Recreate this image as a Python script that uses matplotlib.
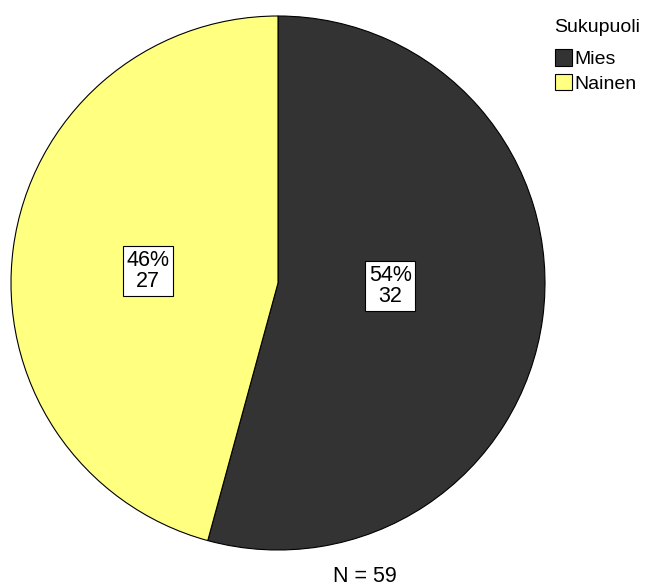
import numpy as np
import matplotlib
matplotlib.use("Agg")
import matplotlib.pyplot as plt
from matplotlib.patches import Patch

categories = ["Mies", "Nainen"]
counts = [32, 27]
colors = ["#333333", "#FFFF80"]
legend_title = "Sukupuoli"

plt.rcParams['font.family'] = ['Liberation Sans', 'DejaVu Sans']

# label box centres, in units of the pie radius
label_xy = [(0.42, -0.011), (-0.487, 0.045)]

W, H = 651, 588
fig = plt.figure(figsize=(W/100, H/100), dpi=100)
cx, cy, R = 278, 283, 267
ax = fig.add_axes([(cx-R)/W, (H-cy-R)/H, 2*R/W, 2*R/H])
wedges, _ = ax.pie(counts, colors=colors, startangle=90, counterclock=False,
                   wedgeprops=dict(edgecolor='black', linewidth=0.8), radius=1)
ax.set_xlim(-1, 1); ax.set_ylim(-1, 1)
ax.set_aspect('auto')
ax.axis('off')

total = sum(counts)
for (lx, ly), c in zip(label_xy, counts):
    ax.text(lx, ly, f"{round(100*c/total)}%\n{c}",
            ha='center', va='center', fontsize=15.5, linespacing=1.0,
            bbox=dict(boxstyle='square,pad=0.18', facecolor='white', edgecolor='black', linewidth=0.8))

handles = [Patch(facecolor=col, edgecolor='black', linewidth=0.8) for col in colors]
leg = fig.legend(handles, categories, title=legend_title, loc='upper left',
                 bbox_to_anchor=(541/W, 1-5/H), frameon=False, fontsize=14,
                 title_fontsize=14, handlelength=0.9, handleheight=0.9,
                 handletextpad=0.1, labelspacing=0.3, borderpad=0.2)
leg._legend_box.align = "left"
leg._legend_box.sep = 10

fig.text(365/W, 1-577/H, f"N = {total}", ha='center', va='center', fontsize=15.5)
fig.savefig("out.png", dpi=100)
